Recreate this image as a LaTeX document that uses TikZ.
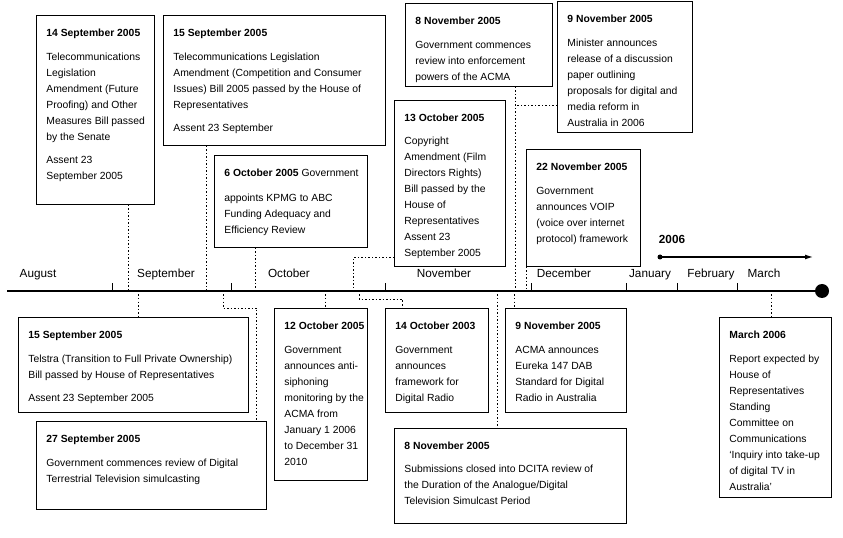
\documentclass[tikz,border=0pt]{standalone}
\usepackage{fontspec}
\setmainfont{Liberation Sans}
\usetikzlibrary{arrows.meta}

\newcommand{\evtext}[3]{\makebox[#1bp][l]{\begin{minipage}[t][#2bp][t]{300bp}\raggedright #3\end{minipage}}}

\tikzset{
	event/.style={draw, line width=0.8bp, anchor=north west, inner xsep=10bp, inner ysep=14bp, font=\fontsize{10.4}{16}\selectfont},
	month/.style={anchor=base, font=\fontsize{11.8}{16}\selectfont},
	dots/.style={line width=0.8bp, dash pattern=on 1.5bp off 2bp},
}

\begin{document}
\begin{tikzpicture}[x=1bp, y=-1bp]
	\useasboundingbox (0,0) rectangle (843,538);

	%axe du temps
	\coordinate (start) at (7,291);
	\coordinate (end) at (822,291);
	\draw[line width=1.4bp] (start) -- (end);
	\fill (end) circle (7bp);

	\draw[line width=0.8bp] (112,291) -- (112,283);
	\draw[line width=0.8bp] (231,291) -- (231,283);
	\draw[line width=0.8bp] (385,291) -- (385,283);
	\draw[line width=0.8bp] (531,291) -- (531,283);
	\draw[line width=0.8bp] (626,291) -- (626,283);
	\draw[line width=0.8bp] (677,291) -- (677,283);
	\draw[line width=0.8bp] (737,291) -- (737,283);

	\node[month] (aug) at (38,278) {August};
	\node[month] (sep) at (166,278) {September};
	\node[month] (oct) at (289,278) {October};
	\node[month] (nov) at (444,278) {November};
	\node[month] (dec) at (564,278) {December};
	\node[month] (jan) at (650,278) {January};
	\node[month] (feb) at (711,278) {February};
	\node[month] (mar) at (764,278) {March};

	\node[month, font=\fontsize{11.8}{16}\selectfont\bfseries] (year) at (672,244) {2006};
	\coordinate (y0) at (660,257);
	\coordinate (y1) at (813,257);
	\draw[line width=1.2bp, -{Latex[length=8bp, width=5bp]}] (y0) -- (y1);
	\fill (y0) circle (2.5bp);

	%au-dessus de l'axe
	\node[event] (sep14a) at (36,15) {\evtext{98}{161}{\textbf{14 September 2005}\\[8bp]
		Telecommunications\\ Legislation\\ Amendment (Future\\ Proofing) and Other\\ Measures Bill passed\\ by the Senate\\[7bp]
		Assent 23\\ September 2005}};
	\node[event] (sep15a) at (163,15) {\evtext{202}{102}{\textbf{15 September 2005}\\[8bp]
		Telecommunications Legislation\\ Amendment (Competition and Consumer\\ Issues) Bill 2005 passed by the House of\\ Representatives\\[7bp]
		Assent 23 September}};
	\node[event] (oct6) at (214,155) {\evtext{133}{64}{\textbf{6 October 2005} Government\\[9bp]
		appoints KPMG to ABC\\ Funding Adequacy and\\ Efficiency Review}};
	\node[event] (nov8a) at (405,3) {\evtext{127}{55}{\textbf{8 November 2005}\\[8bp]
		Government commences\\ review into enforcement\\ powers of the ACMA}};
	\node[event] (nov9a) at (557,1) {\evtext{115}{103}{\textbf{9 November 2005}\\[8bp]
		Minister announces\\ release of a discussion\\ paper outlining\\ proposals for digital and\\ media reform in\\ Australia in 2006}};
	\node[event] (oct13) at (394,100) {\evtext{91}{138}{\textbf{13 October 2005}\\[7bp]
		Copyright\\ Amendment (Film\\ Directors Rights)\\ Bill passed by the\\ House of\\ Representatives\\ Assent 23\\ September 2005}};
	\node[event] (nov22) at (526,149) {\evtext{94}{89}{\textbf{22 November 2005}\\[8bp]
		Government\\ announces VOIP\\ (voice over internet\\ protocol) framework}};

	\coordinate (u1) at (128,291);
	\coordinate (u2) at (206,291);
	\coordinate (u3) at (255,291);
	\coordinate (u4) at (353,291);
	\coordinate (u5) at (515,291);
	\coordinate (u6) at (526,291);
	\coordinate (h13) at ([yshift=9bp]oct13.south west);
	\coordinate (h9) at ([yshift=27bp]nov9a.south west);

	\draw[dots] (u1 |- sep14a.south) -- (u1);
	\draw[dots] (u2 |- sep15a.south) -- (u2);
	\draw[dots] (u3 |- oct6.south) -- (u3);
	\draw[dots] (h13) -| (u4);
	\draw[dots] (u5 |- nov8a.south) -- (u5);
	\draw[dots] (h9) -- (h9 -| u5);
	\draw[dots] (u6 |- nov22.south) -- (u6);

	%en dessous
	\node[event] (telstra) at (18,317) {\evtext{210}{67}{\textbf{15 September 2005}\\[8bp]
		Telstra (Transition to Full Private Ownership)\\ Bill passed by House of Representatives\\[7bp]
		Assent 23 September 2005}};
	\node[event] (sep27) at (36,421) {\evtext{210}{60}{\textbf{27 September 2005}\\[8bp]
		Government commences review of Digital\\ Terrestrial Television simulcasting}};
	\node[event] (oct12) at (274,308) {\evtext{73}{144}{\textbf{12 October 2005}\\[8bp]
		Government\\ announces anti-\\ siphoning\\ monitoring by the\\ ACMA from\\ January 1 2006\\ to December 31\\ 2010}};
	\node[event] (oct14) at (385,308) {\evtext{83}{76}{\textbf{14 October 2003}\\[8bp]
		Government\\ announces\\ framework for\\ Digital Radio}};
	\node[event] (nov9b) at (505,308) {\evtext{101}{76}{\textbf{9 November 2005}\\[8bp]
		ACMA announces\\ Eureka 147 DAB\\ Standard for Digital\\ Radio in Australia}};
	\node[event] (nov8b) at (394,428) {\evtext{212}{67}{\textbf{8 November 2005}\\[7bp]
		Submissions closed into DCITA review of\\ the Duration of the Analogue/Digital\\ Television Simulcast Period}};
	\node[event] (mar06) at (719,317) {\evtext{92}{152}{\textbf{March 2006}\\[8bp]
		Report expected by\\ House of\\ Representatives\\ Standing\\ Committee on\\ Communications\\ `Inquiry into take-up\\ of digital TV in\\ Australia'}};

	\coordinate (l1) at (138,291);
	\coordinate (l2) at (223,291);
	\coordinate (l3) at (325,291);
	\coordinate (l4) at (359,291);
	\coordinate (l5) at (497,291);
	\coordinate (l6) at (514,291);
	\coordinate (l7) at (771,291);

	\draw[dots] (l1) -- (l1 |- telstra.north);
	\draw[dots] (l2) -- ++(0,17) -| ([xshift=-10bp]sep27.north east);
	\draw[dots] (l3) -- (l3 |- oct12.north);
	\draw[dots] (l4) -- ++(0,8) -| ([xshift=17bp]oct14.north west);
	\draw[dots] (l5) -- (l5 |- nov8b.north);
	\draw[dots] (l6) -- (l6 |- nov9b.north);
	\draw[dots] (l7) -- (l7 |- mar06.north);

\end{tikzpicture}
\end{document}
